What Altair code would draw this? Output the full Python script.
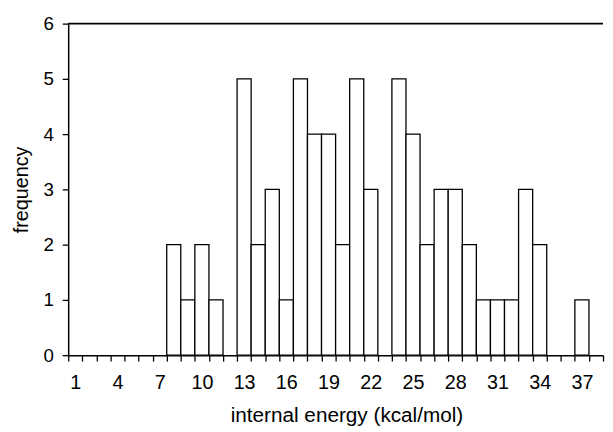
import altair as alt
import pandas as pd

categories = list(range(1, 39))
frequency = [0, 0, 0, 0, 0, 0, 0, 2, 1, 2, 1, 0, 5, 2, 3, 1, 5, 4, 4, 2,
             5, 3, 0, 5, 4, 2, 3, 3, 2, 1, 1, 1, 3, 2, 0, 0, 1, 0]
tick_labels = [1, 4, 7, 10, 13, 16, 19, 22, 25, 28, 31, 34, 37]
y_ticks = [0, 1, 2, 3, 4, 5, 6]

df = pd.DataFrame({"energy": categories, "frequency": frequency})
top_df = pd.DataFrame({"v": [6]})

W, H = 542, 336
n = len(categories)
half = W / n / 2.0

FONT = "Liberation Sans"
boundaries = [c - 0.5 for c in categories] + [categories[-1] + 0.5]
label_list = ",".join(str(v) for v in tick_labels)

x_scale = alt.Scale(domain=[0.5, n + 0.5], nice=False, zero=False)
y_scale = alt.Scale(domain=[0, 6], nice=False)

bars = alt.Chart(df).transform_filter("datum.frequency > 0").transform_calculate(
    lo="datum.energy - 0.5", hi="datum.energy + 0.5"
).mark_rect(fill="white", stroke="black", strokeWidth=1.3).encode(
    x=alt.X("lo:Q", scale=x_scale, axis=alt.Axis(
        values=boundaries,
        labelExpr=f"indexof([{label_list}], datum.value + 0.5) >= 0 ? toString(datum.value + 0.5) : ''",
        labelOffset=half,
        labelOverlap=False, labelFlush=False, labelBound=False,
        tickSize=6, tickColor="black", tickWidth=1.3,
        domainColor="black", domainWidth=1.5,
        labelFont=FONT, labelFontSize=20, labelColor="black", labelPadding=12,
        title="internal energy (kcal/mol)", titleFont=FONT, titleFontSize=21,
        titleFontWeight="normal", titleColor="black",
        titleX=282, titleY=67, titleBaseline="alphabetic", titleAlign="center",
        grid=False)),
    x2="hi:Q",
    y=alt.Y("frequency:Q", scale=y_scale, axis=alt.Axis(
        values=y_ticks, format="d", tickSize=6, tickColor="black", tickWidth=1.3,
        domainColor="black", domainWidth=1.5,
        labelFont=FONT, labelFontSize=19, labelColor="black", labelPadding=9,
        title="frequency", titleFont=FONT, titleFontSize=20,
        titleFontWeight="normal", titleColor="black",
        titleX=-47, titleY=H / 2, titleBaseline="middle", titleAlign="center",
        grid=False)),
    y2=alt.datum(0),
)

top_line = alt.Chart(top_df).mark_rule(color="black", strokeWidth=1.6).encode(
    y=alt.Y("v:Q", scale=y_scale)
)

chart = alt.layer(bars, top_line).properties(
    width=W, height=H,
    autosize=alt.AutoSizeParams(type="none"),
    padding={"left": 61, "top": 13, "right": 2, "bottom": 72},
).configure_view(stroke=None)

chart.save("out.html", embed_options={"renderer": "svg", "actions": False})
